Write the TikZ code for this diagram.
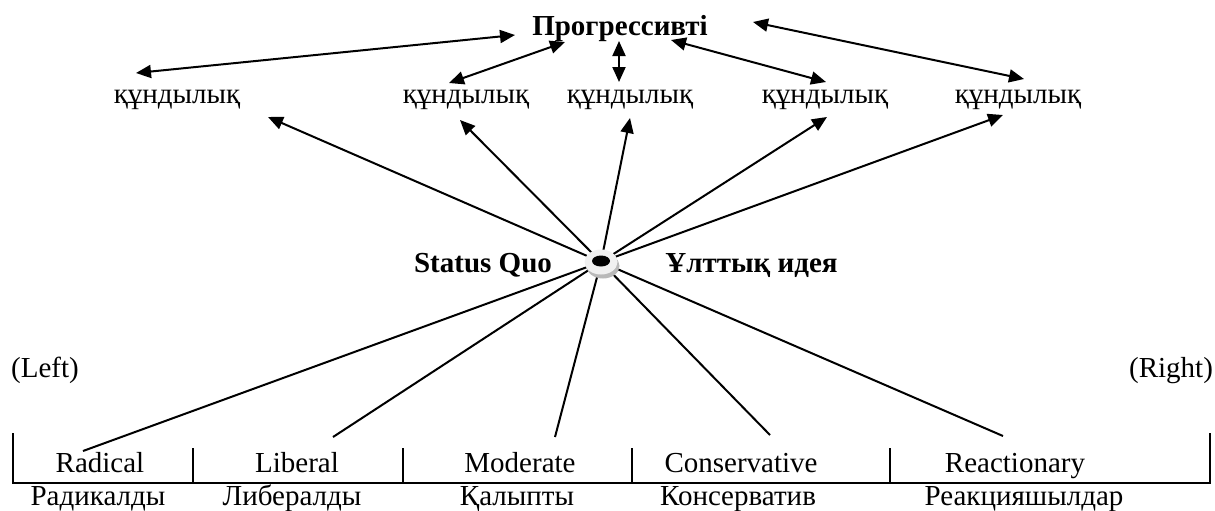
\documentclass[tikz,border=0pt]{standalone}
\usepackage{fontspec}
\setmainfont{Liberation Serif}
\usetikzlibrary{arrows.meta}
\usetikzlibrary{positioning}
\tikzstyle{word} = [inner sep=0pt, anchor=base, font=\fontsize{14.5}{17}\selectfont]
\tikzstyle{head} = [word, font=\fontsize{14.5}{17}\selectfont\bfseries]
\tikzstyle{point} = [coordinate]
\tikzstyle{spoke} = [line width=1pt]
\tikzstyle{ruler} = [line width=1pt]

\begin{document}
\begin{tikzpicture}[x=0.5pt, y=-0.5pt, >={Triangle[length=7.5pt,width=6.5pt]}]
		\useasboundingbox (0,0) rectangle (1215,510);
		
		\node [head] (prog) at (620,35) {Прогрессивті};
		
		\node [word] (v1) at (177,103) {құндылық};
		\node [word] (v2) at (466,103) {құндылық};
		\node [word] (v3) at (630,103) {құндылық};
		\node [word] (v4) at (825,103) {құндылық};
		\node [word] (v5) at (1018,103) {құндылық};
		
		% ends of the double arrows
		\node [point] (a1) at (515,35) {};
		\node [point] (b1) at (136,73) {};
		\node [point] (a2) at (565,42) {};
		\node [point] (b2) at (449,83) {};
		\node [point] (a3) at (619,41) {};
		\node [point] (b3) at (619,82) {};
		\node [point] (a4) at (671,40) {};
		\node [point] (b4) at (826,82) {};
		\node [point] (a5) at (753,22) {};
		\node [point] (b5) at (1024,79) {};
		
		\draw [<->, spoke] (a1) -- (b1);
		\draw [<->, spoke] (a2) -- (b2);
		\draw [<->, spoke] (a3) -- (b3);
		\draw [<->, spoke] (a4) -- (b4);
		\draw [<->, spoke] (a5) -- (b5);
		
		% hub
		\node [point] (hub) at (601,262) {};
		\node [point] (t1) at (268,117) {};
		\node [point] (t2) at (460,120) {};
		\node [point] (t3) at (630,118) {};
		\node [point] (t4) at (827,117) {};
		\node [point] (t5) at (1003,115) {};
		
		\draw [->, spoke] (hub) -- (t1);
		\draw [->, spoke] (hub) -- (t2);
		\draw [->, spoke] (hub) -- (t3);
		\draw [->, spoke] (hub) -- (t4);
		\draw [->, spoke] (hub) -- (t5);
		
		\node [point] (r1) at (83,451) {};
		\node [point] (r2) at (333,437) {};
		\node [point] (r3) at (555,437) {};
		\node [point] (r4) at (770,435) {};
		\node [point] (r5) at (1003,436) {};
		
		\draw [spoke] (hub) -- (r1);
		\draw [spoke] (hub) -- (r2);
		\draw [spoke] (hub) -- (r3);
		\draw [spoke] (hub) -- (r4);
		\draw [spoke] (hub) -- (r5);
		
		\fill [gray!55] (603,266) ellipse (16.5 and 12.5);
		\fill [gray!12] (601,262) ellipse (16.5 and 12.5);
		\fill [black] (601,261) ellipse (9 and 5.5);
		
		\node [head] (sq) at (483,272) {Status Quo};
		\node [head, anchor=base west] (idea) at (665,272) {Ұлттық идея};
		
		\node [word] (left) at (45,377) {(Left)};
		\node [word] (right) at (1171,377) {(Right)};
		
		% the scale
		\draw [ruler] (13,433) -- (13,483) -- (1210,483) -- (1210,433);
		\draw [ruler] (193,448) -- (193,483);
		\draw [ruler] (403,448) -- (403,483);
		\draw [ruler] (632,448) -- (632,483);
		\draw [ruler] (890,448) -- (890,483);
		
		\node [word] (rad) at (100,472) {Radical};
		\node [word] (lib) at (297,472) {Liberal};
		\node [word] (mod) at (520,472) {Moderate};
		\node [word] (con) at (741,472) {Conservative};
		\node [word] (rea) at (1015,472) {Reactionary};
		
		\node [word] (radk) at (98,505) {Радикалды};
		\node [word] (libk) at (292,505) {Либералды};
		\node [word] (modk) at (517,505) {Қалыпты};
		\node [word] (conk) at (738,505) {Консерватив};
		\node [word] (reak) at (1024,505) {Реакцияшылдар};
	
	\end{tikzpicture}
\end{document}
